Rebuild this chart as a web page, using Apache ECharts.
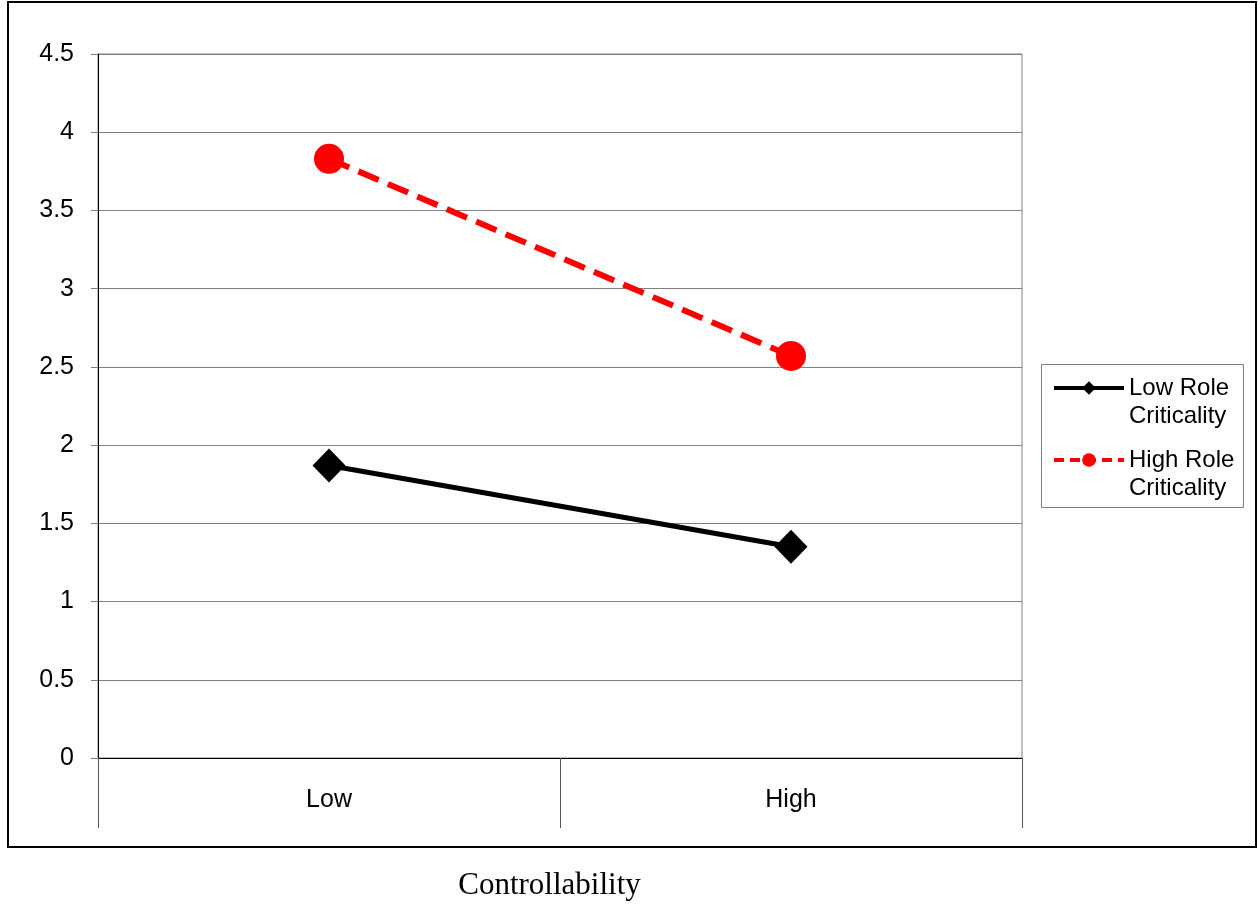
<!DOCTYPE html>
<html>
<head>
<meta charset="utf-8">
<script src="https://cdn.jsdelivr.net/npm/echarts@6/dist/echarts.min.js"></script>
<style>
  html, body { margin: 0; padding: 0; background: #fff; }
  #chart { width: 1258px; height: 905px; }
</style>
</head>
<body>
<div id="chart"></div>
<script>
const categories = ['Low', 'High'];
const lowRoleCriticality = [1.87, 1.35];
const highRoleCriticality = [3.83, 2.57];
const seriesNames = ['Low Role Criticality', 'High Role Criticality'];
const xAxisTitle = 'Controllability';

const FONT = "'Liberation Sans', Arial, sans-serif";
const chart = echarts.init(document.getElementById('chart'), null, { renderer: 'canvas' });

chart.setOption({
  animation: false,
  backgroundColor: '#ffffff',
  grid: {
    left: 98, top: 54, right: 236, bottom: 147,
    outerBoundsMode: 'none',
    containLabel: false,
    show: true, borderColor: '#808080', borderWidth: 1, backgroundColor: 'transparent'
  },
  graphic: [
    {
      type: 'rect', z: -10, silent: true,
      shape: { x: 8, y: 2, width: 1248, height: 845 },
      style: { fill: 'none', stroke: '#000', lineWidth: 2 }
    },
    {
      type: 'rect', z: -5, silent: true,
      shape: { x: 1041.5, y: 364.5, width: 202, height: 143 },
      style: { fill: '#fff', stroke: '#808080', lineWidth: 1 }
    }
  ],
  legend: {
    orient: 'vertical',
    left: 1052,
    top: 346,
    padding: 0,
    itemWidth: 70,
    itemHeight: 17,
    itemGap: -12,
    selectedMode: false,
    textStyle: {
      fontFamily: FONT, fontSize: 24, color: '#000', lineHeight: 28
    },
    formatter: function (name) { return ' \n' + name.replace(' Criticality', '\nCriticality'); },
    data: [
      { name: seriesNames[0], lineStyle: { width: 4 } },
      { name: seriesNames[1], lineStyle: { width: 4, type: [10, 6] } }
    ]
  },
  xAxis: {
    type: 'category',
    data: categories,
    boundaryGap: true,
    axisLine: { show: true, lineStyle: { color: '#000', width: 1 } },
    axisTick: { show: true, length: 70, interval: 0, lineStyle: { color: '#555', width: 1 } },
    axisLabel: { fontFamily: FONT, fontSize: 25, color: '#000', margin: 30 },
    splitLine: { show: false },
    name: xAxisTitle,
    nameLocation: 'middle',
    nameGap: 112,
    nameTextStyle: { fontFamily: "'Liberation Serif', 'Times New Roman', serif", fontSize: 31, color: '#000', padding: [0, 21, 0, 0] }
  },
  yAxis: {
    type: 'value',
    min: 0, max: 4.5, interval: 0.5,
    axisLine: { show: true, lineStyle: { color: '#000', width: 1 } },
    axisTick: { show: true, length: 7, lineStyle: { color: '#808080' } },
    axisLabel: { fontFamily: FONT, fontSize: 25, color: '#000', margin: 24 },
    splitLine: { show: true, lineStyle: { color: '#808080', width: 1 } }
  },
  series: [
    {
      name: seriesNames[0],
      type: 'line',
      data: lowRoleCriticality,
      symbol: 'diamond',
      symbolSize: [33, 34],
      color: '#000',
      itemStyle: { color: '#000' },
      lineStyle: { color: '#000', width: 5 },
      z: 3
    },
    {
      name: seriesNames[1],
      type: 'line',
      data: highRoleCriticality,
      symbol: 'circle',
      symbolSize: 30,
      color: '#ff0000',
      itemStyle: { color: '#ff0000' },
      lineStyle: { color: '#ff0000', width: 6, type: [22, 10] },
      z: 4
    }
  ]
});
</script>
</body>
</html>
